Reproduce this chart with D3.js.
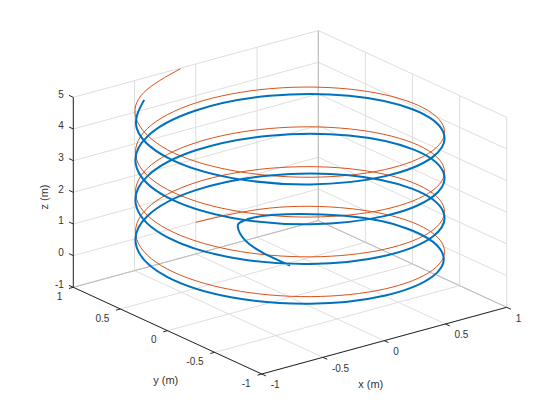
<!DOCTYPE html>
<html>
<head>
<meta charset="utf-8">
<style>
body { margin: 0; background: #fff; }
text { font-family: "Liberation Sans", Arial, sans-serif; fill: #333; }
</style>
<script src="https://d3js.org/d3.v7.min.js"></script>
</head>
<body>
<div id="graph"></div>
<script>
// DATA
var xyTicks = [-1, -0.5, 0, 0.5, 1];
var zTicks = [-1, 0, 1, 2, 3, 4, 5];

// Reference helix (thin orange line)
var refX = [0, .5, .866, 1, .866, .5, 0, -.5, -.866, -1, -.866, -.5,
    0, .5, .866, 1, .866, .5, 0, -.5, -.866, -1, -.866, -.5,
    0, .5, .866, 1, .866, .5, 0, -.5, -.866, -1, -.866, -.5,
    0, .5, .866, 1, .866, .5, 0, -.5, -.866, -1, -.866, -.556, -.132];
var refY = [1, .866, .5, 0, -.5, -.866, -1, -.866, -.5, 0, .5, .866,
    1, .866, .5, 0, -.5, -.866, -1, -.866, -.5, 0, .5, .866,
    1, .866, .5, 0, -.5, -.866, -1, -.866, -.5, 0, .5, .866,
    1, .866, .5, 0, -.5, -.866, -1, -.866, -.5, 0, .5, .831, .991];
var refZ = [0, .105, .209, .314, .419, .524, .628, .733, .838, .942, 1.047, 1.152,
    1.257, 1.361, 1.466, 1.571, 1.676, 1.78, 1.885, 1.99, 2.094, 2.199, 2.304, 2.409,
    2.513, 2.618, 2.723, 2.827, 2.932, 3.037, 3.142, 3.246, 3.351, 3.456, 3.56, 3.665,
    3.77, 3.875, 3.979, 4.084, 4.189, 4.294, 4.398, 4.503, 4.608, 4.712, 4.817, 4.908, 5];

// Actual path (thick blue line), starts at the origin
var pathX = [0, .004, .051, .159, .246, .4525, .801, .96, .857,
    .5, 0, -.5, -.866, -1, -.866, -.5,
    0, .5, .866, 1, .866, .5, 0, -.5, -.866, -1, -.866, -.5,
    0, .5, .866, 1, .866, .5, 0, -.5, -.866, -1, -.866, -.5,
    0, .5, .866, 1, .866, .5, 0, -.5, -.866, -1, -.866, -.545];
var pathY = [0, .288, .544, .761, .819, .784, .4625, 0, -.495,
    -.866, -1, -.866, -.5, 0, .5, .866,
    1, .866, .5, 0, -.5, -.866, -1, -.866, -.5, 0, .5, .866,
    1, .866, .5, 0, -.5, -.866, -1, -.866, -.5, 0, .5, .866,
    1, .866, .5, 0, -.5, -.866, -1, -.866, -.5, 0, .5, .839];
var pathZ = [0, 0, .005, .015, .03, .05, .095, .155, .224,
    .324, .418, .508, .598, .692, .792, .902,
    1.017, 1.136, 1.256, 1.371, 1.481, 1.58, 1.675, 1.765, 1.854, 1.949, 2.049, 2.159,
    2.273, 2.393, 2.513, 2.627, 2.737, 2.837, 2.932, 3.021, 3.111, 3.206, 3.305, 3.415,
    3.53, 3.65, 3.769, 3.884, 3.994, 4.094, 4.188, 4.278, 4.368, 4.462, 4.562, 4.66];


// SCALES (oblique projection of the 3D box onto the page)
var xToLeft = d3.scaleLinear().domain([-1, 1]).range([167.5, 412.5]);
var xToTop = d3.scaleLinear().domain([-1, 1]).range([33.35, -33.35]);
var yToLeft = d3.scaleLinear().domain([-1, 1]).range([94.2, -94.2]);
var yToTop = d3.scaleLinear().domain([-1, 1]).range([43.35, -43.35]);
var zToTop = d3.scaleLinear().domain([-1, 5]).range([297.3, 107.3]);

function project(x, y, z) {
    return [xToLeft(x) + yToLeft(y), zToTop(z) + xToTop(x) + yToTop(y)];
}


// DRAW
var svg = d3.select("#graph")
    .append("svg")
    .attr("width", 560)
    .attr("height", 420);

function segment(a, b, color, width) {
    var p = project(a[0], a[1], a[2]);
    var q = project(b[0], b[1], b[2]);
    svg.append("line")
        .attr("x1", p[0]).attr("y1", p[1])
        .attr("x2", q[0]).attr("y2", q[1])
        .attr("stroke", color)
        .attr("stroke-width", width);
}

var gridColor = "#dedede";

// Grid on the floor and the two back walls
xyTicks.forEach(function(t) {
    segment([t, -1, -1], [t, 1, -1], gridColor, 1);
    segment([-1, t, -1], [1, t, -1], gridColor, 1);
    segment([t, 1, -1], [t, 1, 5], gridColor, 1);
    segment([1, t, -1], [1, t, 5], gridColor, 1);
});
zTicks.forEach(function(t) {
    segment([-1, 1, t], [1, 1, t], gridColor, 1);
    segment([1, 1, t], [1, -1, t], gridColor, 1);
});

// Back edges
segment([-1, 1, -1], [1, 1, -1], "#bcbcbc", 1);
segment([1, 1, -1], [1, -1, -1], "#bcbcbc", 1);
segment([1, 1, -1], [1, 1, 5], "#bcbcbc", 1);

// Curves
var line3d = d3.line()
    .x(function(d) { return d[0]; })
    .y(function(d) { return d[1]; })
    .curve(d3.curveNatural);

function drawCurve(xs, ys, zs, color, width) {
    var points = xs.map(function(x, i) { return project(x, ys[i], zs[i]); });
    svg.append("path")
        .attr("fill", "none")
        .attr("stroke", color)
        .attr("stroke-width", width)
        .attr("d", line3d(points));
}

drawCurve(refX, refY, refZ, "#D95319", 1);
drawCurve(pathX, pathY, pathZ, "#0072BD", 2);

// Axes
var axisColor = "#262626";
segment([-1, 1, -1], [-1, 1, 5], axisColor, 1);
segment([-1, 1, -1], [-1, -1, -1], axisColor, 1);
segment([-1, -1, -1], [1, -1, -1], axisColor, 1);

function tickLabel(p, dx, dy, anchor, label) {
    svg.append("text")
        .attr("x", p[0] + dx)
        .attr("y", p[1] + dy)
        .attr("text-anchor", anchor)
        .attr("font-size", 10)
        .text(label);
}

zTicks.forEach(function(t) {
    segment([-1, 1, t], [-1, 1.045, t], axisColor, 1);
    tickLabel(project(-1, 1, t), -9.5, 0.2, "end", t);
});
xyTicks.forEach(function(t) {
    segment([-1, t, -1], [-1.035, t, -1], axisColor, 1);
    tickLabel(project(-1, t, -1), -11, 12.8, "end", t);
    segment([t, -1, -1], [t, -1.045, -1], axisColor, 1);
    tickLabel(project(t, -1, -1), 9, 14.2, "start", t);
});

// Axis labels
function axisLabel(x, y, rotate, label) {
    svg.append("text")
        .attr("transform", "translate(" + x + "," + y + ") rotate(" + rotate + ")")
        .attr("text-anchor", "middle")
        .attr("font-size", 11)
        .text(label);
}
axisLabel(370.7, 388, 0, "x (m)");
axisLabel(165.7, 384, 0, "y (m)");
axisLabel(48, 197, -90, "z (m)");
</script>
</body>
</html>
